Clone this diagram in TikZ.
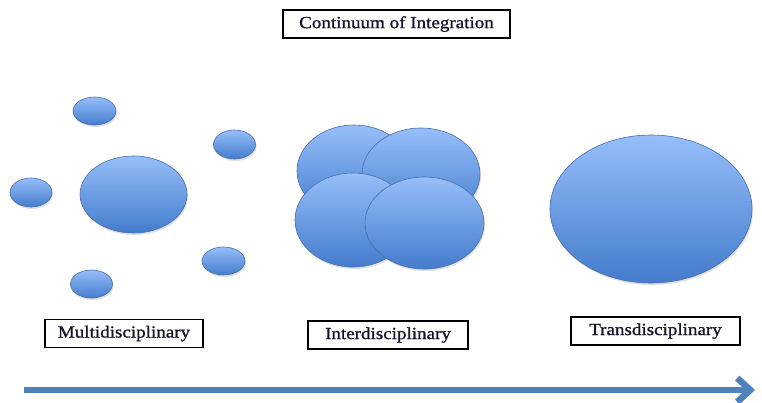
\documentclass[tikz,border=0pt]{standalone}
\usepackage{fontspec}
\setmainfont{Liberation Serif}[FakeStretch=1.12,FakeBold=1]
\usetikzlibrary{shapes.geometric,arrows.meta,shadows}
\definecolor{blobtop}{RGB}{150,190,250}
\definecolor{blobbot}{RGB}{68,124,204}
\definecolor{blobline}{RGB}{70,110,170}
\definecolor{arrowblue}{RGB}{79,129,189}
\definecolor{textdark}{RGB}{20,20,40}
\tikzset{
  blob/.style={ellipse, draw=blobline, line width=0.6pt, top color=blobtop, bottom color=blobbot, inner sep=0pt,
    drop shadow={opacity=0.25, shadow xshift=1pt, shadow yshift=-2pt}},
  labelbox/.style={draw=black, line width=1.1pt, fill=white, inner sep=0pt, minimum height=28pt,
    font=\fontsize{17pt}{20pt}\selectfont, text=textdark},
  bigarrow/.style={draw=arrowblue, line width=6.5pt, -{Straight Barb[length=13pt,width=24pt]}}
}
\begin{document}
\begin{tikzpicture}[x=1pt,y=-1pt]
\useasboundingbox (0,0) rectangle (762,402);
% title
\node[labelbox, minimum width=227pt] (title) at (396.5,24) {Continuum of Integration};
% multidisciplinary
\node[blob, minimum width=43pt, minimum height=28pt] (m1) at (94.5,111) {};
\node[blob, minimum width=42pt, minimum height=29pt] (m2) at (234.5,144.5) {};
\node[blob, minimum width=42pt, minimum height=29pt] (m3) at (31,192.5) {};
\node[blob, minimum width=107pt, minimum height=77pt] (m0) at (133.5,194.5) {};
\node[blob, minimum width=43pt, minimum height=28pt] (m4) at (223.5,261) {};
\node[blob, minimum width=42pt, minimum height=28pt] (m5) at (91.5,284) {};
% interdisciplinary
\node[blob, minimum width=114pt, minimum height=92pt] (i1) at (354,171) {};
\node[blob, minimum width=118pt, minimum height=92pt] (i2) at (421,174) {};
\node[blob, minimum width=116pt, minimum height=94pt] (i3) at (353,220) {};
\node[blob, minimum width=119pt, minimum height=92pt] (i4) at (424.5,223) {};
% transdisciplinary
\node[blob, minimum width=202pt, minimum height=148pt] (t1) at (651,209) {};
% labels
\node[labelbox, minimum width=158pt] (lm) at (124,333.5) {Multidisciplinary};
\node[labelbox, minimum width=160pt] (li) at (388,335) {Interdisciplinary};
\node[labelbox, minimum width=169pt] (lt) at (655.5,331) {Transdisciplinary};
% arrow
\coordinate (as) at (24,390);
\coordinate (ae) at (755,390);
\draw[bigarrow] (as) -- (ae);
\end{tikzpicture}
\end{document}
